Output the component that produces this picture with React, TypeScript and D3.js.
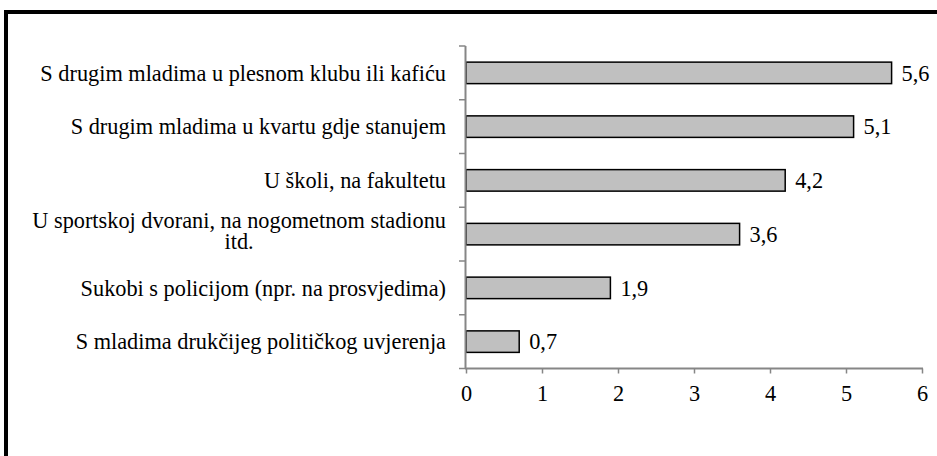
import * as d3 from "d3";
import { useEffect, useRef } from "react";

// Categories listed top to bottom, lines split where the label wraps
const categories = [
  ["S drugim mladima u plesnom klubu ili kafiću"],
  ["S drugim mladima u kvartu gdje stanujem"],
  ["U školi, na fakultetu"],
  ["U sportskoj dvorani, na nogometnom stadionu", "itd."],
  ["Sukobi s policijom (npr. na prosvjedima)"],
  ["S mladima drukčijeg političkog uvjerenja"],
];
const values = [5.6, 5.1, 4.2, 3.6, 1.9, 0.7];
const xTicks = [0, 1, 2, 3, 4, 5, 6];

const W = 937;
const H = 456;

const App = () => {
  const svgRef = useRef<SVGSVGElement>(null);

  useEffect(() => {
    const svg = d3.select(svgRef.current).attr("width", W).attr("height", H);
    svg.selectAll("*").remove();

    const fontSize = 22.3;
    const axisColor = "#868686";
    const left = 466;
    const right = 922;
    const top = 46;
    const bottom = 368.5;

    // Frame (only top and left edges are visible in the crop)
    svg.append("path")
      .attr("d", `M6,${H + 5} V12 H${W + 5}`)
      .attr("fill", "none")
      .attr("stroke", "#000")
      .attr("stroke-width", 4);

    const x = d3.scaleLinear().domain([0, 6]).range([left, right]);
    const y = d3
      .scaleBand<number>()
      .domain(d3.range(categories.length))
      .range([top, bottom])
      .paddingInner(0.6)
      .paddingOuter(0.3);

    const g = svg.append("g");

    // Bars
    g.selectAll(".bar")
      .data(values)
      .join("rect")
      .attr("class", "bar")
      .attr("x", x(0))
      .attr("y", (_, i) => y(i)!)
      .attr("width", (d) => x(d) - x(0))
      .attr("height", y.bandwidth())
      .attr("fill", "#c0c0c0")
      .attr("stroke", "#000")
      .attr("stroke-width", 1.5);

    // Value labels
    g.selectAll(".val")
      .data(values)
      .join("text")
      .attr("class", "val")
      .attr("x", (d) => x(d) + 10)
      .attr("y", (_, i) => y(i)! + y.bandwidth() / 2 + 7.8)
      .attr("font-size", fontSize)
      .attr("fill", "#000")
      .text((d) => String(d).replace(".", ","));

    // Y axis: line + ticks at band boundaries
    const step = (bottom - top) / categories.length;
    const yAxis = svg.append("g");
    yAxis.append("line")
      .attr("x1", left - 0.5).attr("x2", left - 0.5)
      .attr("y1", top).attr("y2", bottom)
      .attr("stroke", axisColor).attr("stroke-width", 2);
    yAxis.selectAll(".ytick")
      .data(d3.range(categories.length + 1))
      .join("line")
      .attr("class", "ytick")
      .attr("x1", left - 7).attr("x2", left - 0.5)
      .attr("y1", (i) => top + i * step)
      .attr("y2", (i) => top + i * step)
      .attr("stroke", axisColor).attr("stroke-width", 1.5);

    // Category labels, multi-line ones centred on the bar
    const lineH = 20.5;
    categories.forEach((lines, i) => {
      const cy = y(i)! + y.bandwidth() / 2;
      const t = svg.append("text")
        .attr("font-size", fontSize)
        .attr("fill", "#000");
      if (lines.length === 1) {
        t.attr("x", 446).attr("y", cy + 7.8)
          .attr("text-anchor", "end").text(lines[0]);
      } else {
        const y0 = cy + 4.3 - ((lines.length - 1) * lineH) / 2;
        const first = t.append("tspan").attr("x", 446)
          .attr("y", y0)
          .attr("text-anchor", "end").text(lines[0]);
        const len = (first.node() as SVGTSpanElement).getComputedTextLength();
        const mid = 446 - len / 2;
        lines.slice(1).forEach((ln, k) => {
          t.append("tspan").attr("x", mid)
            .attr("y", y0 + (k + 1) * lineH)
            .attr("text-anchor", "middle").text(ln);
        });
      }
    });

    // X axis
    const xAxis = d3
      .axisBottom(x)
      .tickValues(xTicks)
      .tickSize(5)
      .tickPadding(12)
      .tickFormat((d) => String(d));
    const xg = svg.append("g")
      .attr("transform", `translate(0,${bottom})`)
      .call(xAxis);
    xg.attr("font-family", null).attr("font-size", null);
    xg.select(".domain").attr("stroke", axisColor).attr("stroke-width", 2)
      .attr("d", `M${left - 1},0H${right + 1}`);
    xg.selectAll(".tick line").attr("stroke", axisColor).attr("stroke-width", 1.5);
    xg.selectAll(".tick text")
      .attr("font-size", fontSize)
      .attr("fill", "#000");
  }, []);

  return (
    <div style={{ position: "absolute", left: 0, top: 0, background: "#fff" }}>
      <svg
        ref={svgRef}
        style={{ display: "block", fontFamily: '"Liberation Serif", "Times New Roman", serif' }}
      />
    </div>
  );
};

export default App;
